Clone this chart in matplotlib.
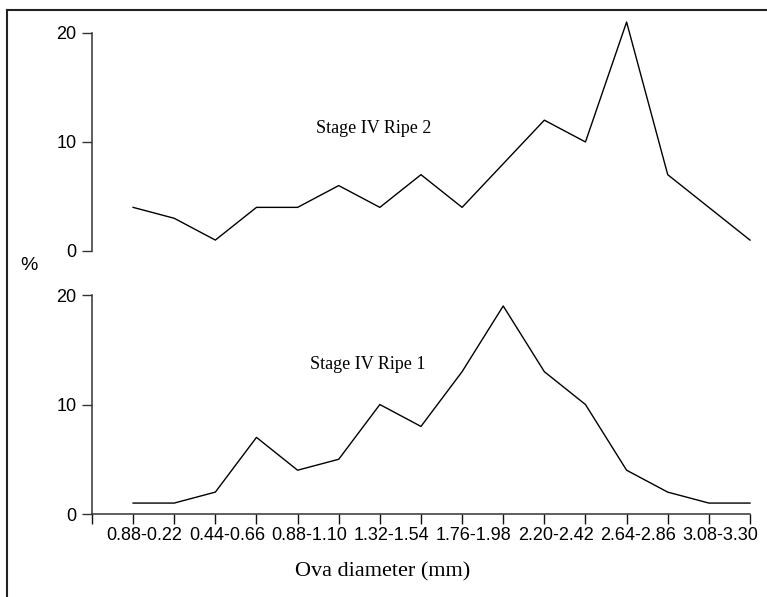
import matplotlib
matplotlib.use("Agg")
import matplotlib.pyplot as plt
from matplotlib.lines import Line2D

# Ova diameter frequency (%), one value per class
positions = list(range(1, 17))
ripe2 = [4, 3, 1, 4, 4, 6, 4, 7, 4, 8, 12, 10, 21, 7, 4, 1]
ripe1 = [1, 1, 2, 7, 4, 5, 10, 8, 13, 19, 13, 10, 4, 2, 1, 1]
class_labels = ["0.88-0.22", "0.44-0.66", "0.88-1.10", "1.32-1.54",
                "1.76-1.98", "2.20-2.42", "2.64-2.86", "3.08-3.30"]
label_pos = [1.28 + 2 * i for i in range(len(class_labels))]
yticks = [0, 10, 20]

sans = "Liberation Sans"
serif = "Liberation Serif"

fig = plt.figure(figsize=(7.67, 5.97), dpi=100)
ax_top = fig.add_axes([0.1199, 0.5796, 0.8579, 0.3652])
ax_bot = fig.add_axes([0.1199, 0.1390, 0.8579, 0.3668])

for ax, data in [(ax_top, ripe2), (ax_bot, ripe1)]:
    ax.plot(positions, data, color="black", lw=1.0, clip_on=False)
    ax.set_xlim(0, 16)
    ax.set_ylim(0, 20)
    ax.set_yticks(yticks)
    ax.set_yticklabels([str(v) for v in yticks], fontfamily=sans, fontsize=13)
    ax.tick_params(axis="y", length=7.2, width=1.0, pad=4, color="#333333")
    ax.spines["top"].set_visible(False)
    ax.spines["right"].set_visible(False)
    ax.spines["left"].set_color("#333333")
    ax.spines["left"].set_linewidth(1.1)

# top panel: no x axis
ax_top.spines["bottom"].set_visible(False)
ax_top.set_xticks([])

# bottom panel: class ticks, labels every other class
ax_bot.spines["bottom"].set_color("#333333")
ax_bot.spines["bottom"].set_linewidth(1.1)
ax_bot.set_xticks(range(0, 17))
ax_bot.set_xticklabels([])
ax_bot.tick_params(axis="x", which="major", length=7.2, width=1.0, color="#111111")
ax_bot.set_xticks(label_pos, minor=True)
ax_bot.set_xticklabels(class_labels, minor=True, fontfamily=sans, fontsize=13)
ax_bot.tick_params(axis="x", which="minor", length=0, pad=9)

fig.text(383 / 767, 1 - 572 / 597, "Ova diameter (mm)", fontfamily=serif,
         fontsize=16, ha="center", va="center")

ax_top.text(6.85, 11.2, "Stage IV Ripe 2", fontfamily=serif, fontsize=13,
            ha="center", va="center")
ax_bot.text(6.7, 13.7, "Stage IV Ripe 1", fontfamily=serif, fontsize=13,
            ha="center", va="center")

fig.text(29 / 767, 1 - 265 / 597, "%", fontfamily=sans, fontsize=14,
         ha="center", va="center")

# frame (left and top edges visible, rest cropped)
fig.add_artist(Line2D([7 / 767, 7 / 767], [0, 1 - 10 / 597], transform=fig.transFigure,
                      color="#222222", lw=1.5))
fig.add_artist(Line2D([7 / 767, 1], [1 - 10 / 597, 1 - 10 / 597], transform=fig.transFigure,
                      color="#222222", lw=1.5))

fig.savefig("out.png", dpi=100)
